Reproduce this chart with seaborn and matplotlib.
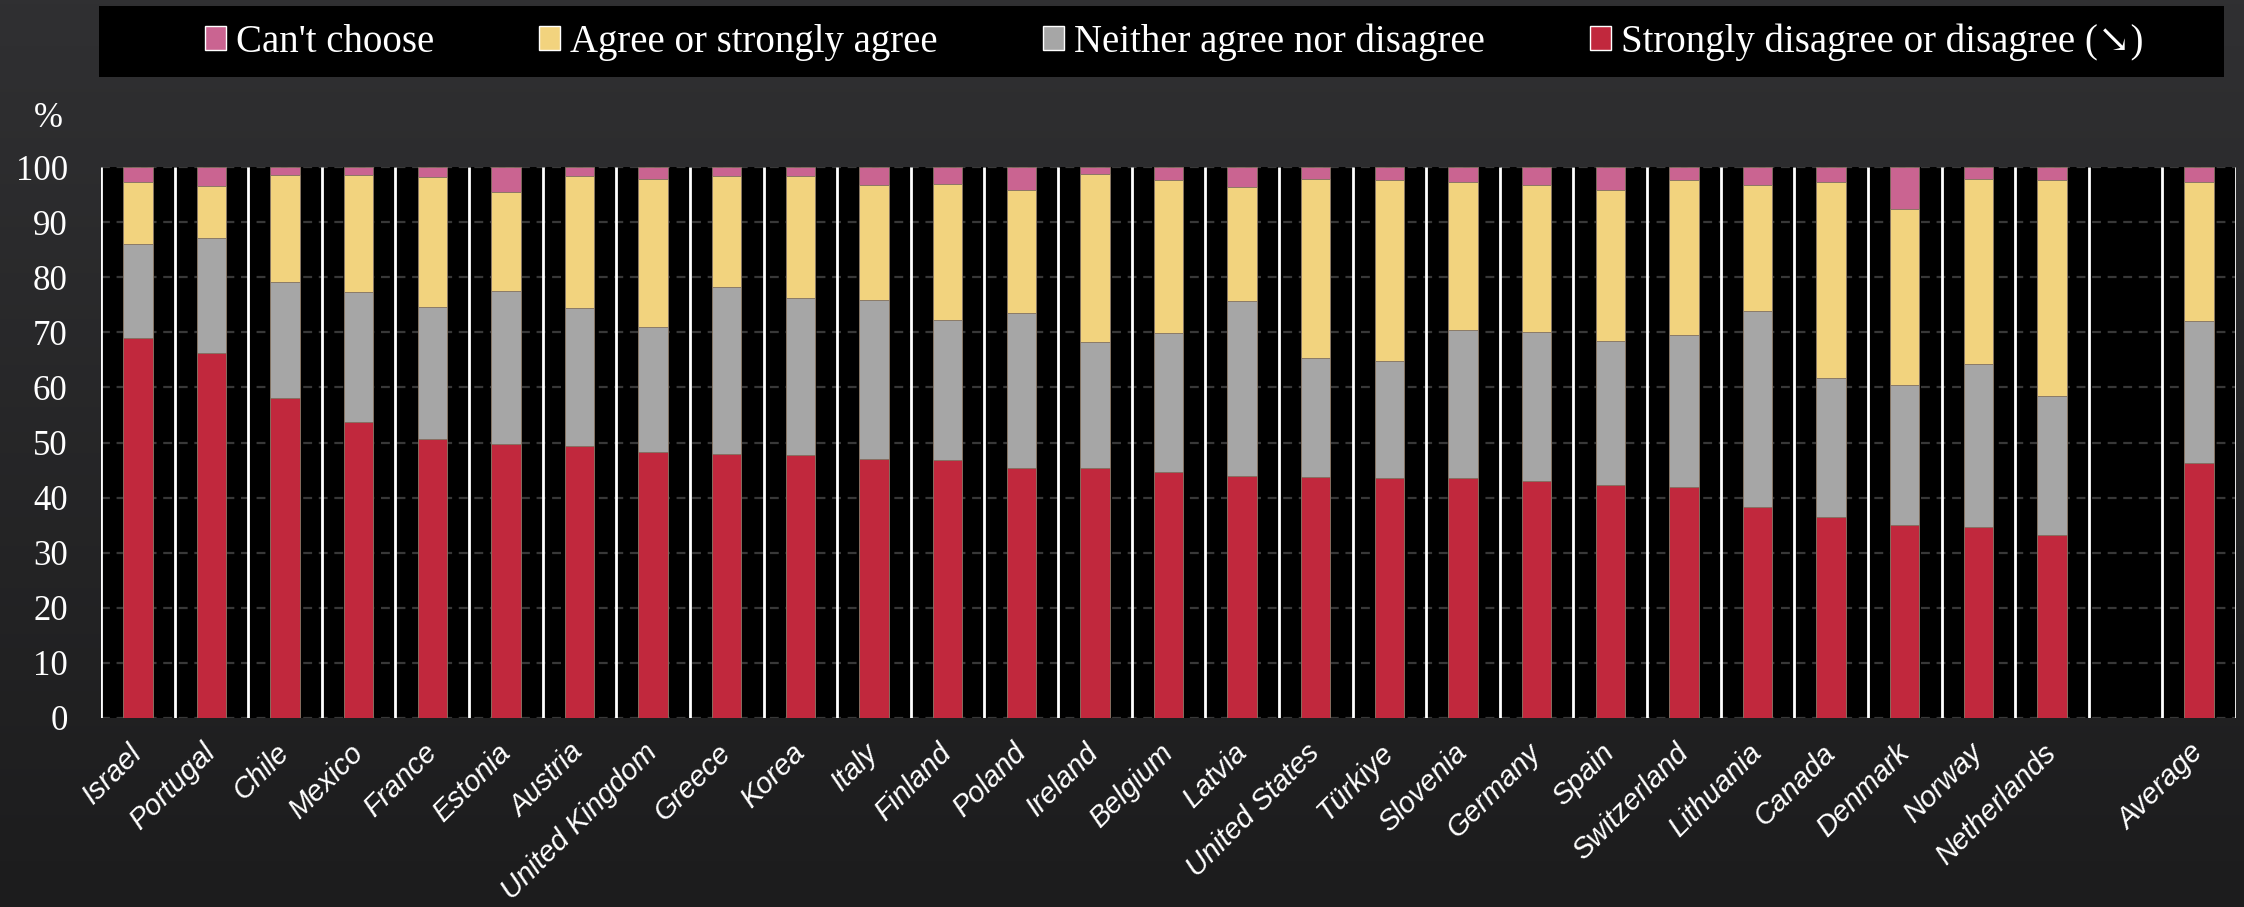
import numpy as np
import pandas as pd
import matplotlib
matplotlib.use("Agg")
import matplotlib.pyplot as plt
import seaborn as sns
from matplotlib.patches import Rectangle, Patch
from matplotlib.colors import LinearSegmentedColormap
from matplotlib.font_manager import FontProperties

# ---------------- data ----------------
countries = ["Israel", "Portugal", "Chile", "Mexico", "France", "Estonia", "Austria",
             "United Kingdom", "Greece", "Korea", "Italy", "Finland", "Poland", "Ireland",
             "Belgium", "Latvia", "United States", "Türkiye", "Slovenia", "Germany",
             "Spain", "Switzerland", "Lithuania", "Canada", "Denmark", "Norway",
             "Netherlands", "Average"]
disagree = [68.9, 66.3, 58.1, 53.7, 50.7, 49.7, 49.4, 48.2, 47.9, 47.7, 47.0, 46.8, 45.3, 45.3,
            44.6, 44.0, 43.7, 43.6, 43.5, 43.0, 42.2, 41.9, 38.3, 36.4, 35.0, 34.7, 33.3, 46.2]
neither = [17.1, 20.9, 21.0, 23.6, 23.9, 27.8, 25.0, 22.8, 30.3, 28.6, 28.9, 25.5, 28.2, 23.0,
           25.2, 31.6, 21.6, 21.2, 26.9, 27.0, 26.3, 27.7, 35.5, 25.3, 25.5, 29.6, 25.2, 25.8]
agree = [11.2, 9.3, 19.4, 21.3, 23.5, 17.9, 23.9, 26.8, 20.1, 22.1, 20.8, 24.7, 22.3, 30.4,
         27.8, 20.7, 32.6, 32.8, 26.8, 26.7, 27.3, 28.0, 22.9, 35.5, 31.8, 33.5, 39.1, 25.2]
cant_choose = [2.8, 3.5, 1.5, 1.4, 1.9, 4.6, 1.7, 2.2, 1.7, 1.6, 3.3, 3.0, 4.2, 1.3,
               2.4, 3.7, 2.1, 2.4, 2.8, 3.3, 4.2, 2.4, 3.3, 2.8, 7.7, 2.2, 2.4, 2.8]
legend_labels = ["Can't choose", "Agree or strongly agree",
                 "Neither agree nor disagree", "Strongly disagree or disagree (\u2198)"]
yticks = [0, 10, 20, 30, 40, 50, 60, 70, 80, 90, 100]

RED, GRAY, YELLOW, PINK = "#C1283D", "#A6A6A6", "#F2D37E", "#CA6491"

df = pd.DataFrame({"country": countries, "disagree": disagree, "neither": neither,
                   "agree": agree, "cant": cant_choose})
df["top_red"] = df["disagree"]
df["top_gray"] = df["top_red"] + df["neither"]
df["top_yellow"] = df["top_gray"] + df["agree"]
df["top_pink"] = df["top_yellow"] + df["cant"]

order = countries[:-1] + [" "] + [countries[-1]]

# ---------------- style ----------------
sns.set_theme(style="dark")
plt.rcParams["font.family"] = ["Liberation Serif", "DejaVu Serif"]

W, H = 2244, 907
fig = plt.figure(figsize=(W / 100, H / 100), dpi=100)

# background gradient
bg = fig.add_axes([0, 0, 1, 1], zorder=-10)
grad = np.linspace(0, 1, 256).reshape(-1, 1)
cmap = LinearSegmentedColormap.from_list("bg", ["#303032", "#1c1c1d"])
bg.imshow(grad, aspect="auto", cmap=cmap, extent=[0, 1, 0, 1])
bg.axis("off")

# legend box
fig.patches.append(Rectangle((99 / W, 1 - 77 / H), (2224 - 99) / W, 71 / H,
                             transform=fig.transFigure, facecolor="black",
                             edgecolor="none", zorder=1))

left, right, top, bottom = 101, 2236, 167, 718
ax = fig.add_axes([left / W, 1 - bottom / H, (right - left) / W, (bottom - top) / H])
ax.set_facecolor("black")

for col, color in [("top_pink", PINK), ("top_yellow", YELLOW),
                   ("top_gray", GRAY), ("top_red", RED)]:
    sns.barplot(data=df, x="country", y=col, order=order, color=color, saturation=1,
                width=0.4, edgecolor="#807060", linewidth=0.6, ax=ax, zorder=3)

ax.set_xlim(-0.5, len(order) - 0.5)
ax.set_ylim(0, 100)
ax.set_yticks(yticks)
ax.set_axisbelow(True)
ax.yaxis.grid(True, color="#383838", linestyle=(0, (4, 3)), linewidth=1.6)
ax.xaxis.grid(False)
ax.vlines(np.arange(-0.5, len(order), 1.0), 0, 100, color="white", lw=2, zorder=2)
for s in ax.spines.values():
    s.set_visible(False)

ax.set_xlabel("")
ax.set_ylabel("")
ax.tick_params(axis="y", length=0, pad=24, labelsize=25, labelcolor="white")
ax.tick_params(axis="x", length=0, pad=22, labelcolor="white")
for lab in ax.get_yticklabels():
    lab.set_fontfamily("Liberation Serif")
for lab in ax.get_xticklabels():
    lab.set_rotation(45)
    lab.set_ha("right")
    lab.set_va("center")
    lab.set_rotation_mode("anchor")
    lab.set_fontfamily("Liberation Sans")
    lab.set_fontstyle("italic")
    lab.set_fontsize(21)

fig.text(48 / W, 1 - 118 / H, "%", color="white", fontsize=25,
         ha="center", va="center", family="Liberation Serif")

handles = [Patch(facecolor=PINK), Patch(facecolor=YELLOW),
           Patch(facecolor=GRAY), Patch(facecolor=RED)]
leg = fig.legend(handles, legend_labels, loc="center",
                 bbox_to_anchor=(1174 / W, 1 - 42 / H), ncol=4, frameon=False,
                 prop=FontProperties(family=["Liberation Serif", "DejaVu Serif"], size=28),
                 labelcolor="white", handlelength=0.55, handleheight=0.55,
                 handletextpad=0.25, columnspacing=2.7)

fig.savefig("out.png", dpi=100, facecolor=fig.get_facecolor())
